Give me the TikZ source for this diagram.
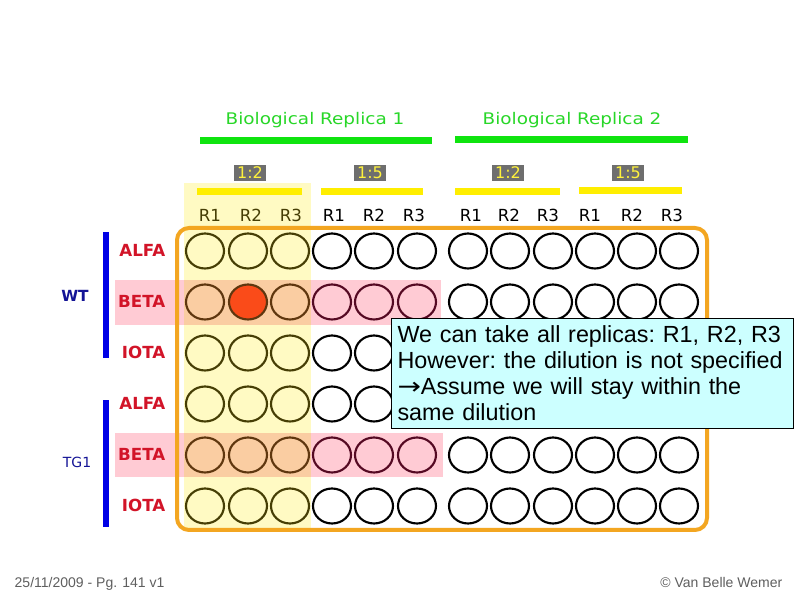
\documentclass[tikz,border=0pt]{standalone}
\usepackage{fontspec}
\usepackage{graphicx}
\setmainfont{DejaVu Sans}
\newfontfamily\notefont{Liberation Sans}
\newfontfamily\arrowfont{DejaVu Sans}
\newfontfamily\widefont[FakeStretch=1.15]{DejaVu Sans}
\usepackage{tikz}

\definecolor{platecol}{RGB}{243,166,33}
\definecolor{colyel}{RGB}{255,250,195}
\definecolor{rowpink}{RGB}{255,203,212}
\definecolor{rowpeach}{RGB}{250,205,162}
\definecolor{edgeyel}{RGB}{70,62,5}
\definecolor{edgepink}{RGB}{85,10,35}
\definecolor{edgepeach}{RGB}{95,55,15}
\definecolor{wellred}{RGB}{250,75,25}
\definecolor{barblue}{RGB}{0,0,230}
\definecolor{navy}{RGB}{20,20,150}
\definecolor{labred}{RGB}{210,20,40}
\definecolor{bargreen}{RGB}{15,228,15}
\definecolor{titlegreen}{RGB}{40,215,40}
\definecolor{baryel}{RGB}{255,238,0}
\definecolor{ratiogray}{RGB}{110,110,110}
\definecolor{ratioyel}{RGB}{255,242,60}
\definecolor{notecyan}{RGB}{204,255,255}
\definecolor{footgray}{RGB}{95,95,95}

\begin{document}
\begin{tikzpicture}[x=0.75pt, y=-0.75pt,
  well/.style={line width=1.6pt},
  rowlab/.style={anchor=base east, text=labred, font=\bfseries\fontsize{12.5}{14}\selectfont},
  replab/.style={anchor=base, font=\fontsize{12.5}{14}\selectfont},
  ratio/.style={fill=ratiogray, text=ratioyel, font=\fontsize{12}{14}\selectfont,
    inner xsep=2pt, inner ysep=1.5pt, text height=9pt, text depth=0pt},
  title/.style={anchor=base, text=titlegreen, font=\widefont\fontsize{12}{14}\selectfont}]

\useasboundingbox[fill=white] (0,0) rectangle (794,595);

% draw yellow column and pink rows
\fill[colyel] (184,183) rectangle (311,530);
\fill[rowpink] (115,280) rectangle (441,325);
\fill[rowpink] (115,433) rectangle (443,477);
\fill[rowpeach] (184,280) rectangle (311,325);
\fill[rowpeach] (184,433) rectangle (311,477);

% draw plate
\draw[platecol, line width=3pt, rounded corners=9pt] (177,228) rectangle (707,530);

% draw wells
\foreach \x in {205,248,290}
  \foreach \y in {251,353,404,506}
    \draw[well, edgeyel] (\x,\y) ellipse [x radius=19, y radius=17.5];
\foreach \x in {205,290}
  \foreach \y in {302,455}
    \draw[well, edgepeach] (\x,\y) ellipse [x radius=19, y radius=17.5];
\draw[well, edgepeach] (248,455) ellipse [x radius=19, y radius=17.5];
\filldraw[well, draw=edgepeach, fill=wellred] (248,302) ellipse [x radius=19, y radius=17.5];
\foreach \x in {332,374,417}
  \foreach \y in {302,455}
    \draw[well, edgepink] (\x,\y) ellipse [x radius=19, y radius=17.5];
\foreach \x in {332,374,417}
  \foreach \y in {251,353,404,506}
    \draw[well, black] (\x,\y) ellipse [x radius=19, y radius=17.5];
\foreach \x in {468,510,553,595,637,679}
  \foreach \y in {251,302,353,404,455,506}
    \draw[well, black] (\x,\y) ellipse [x radius=19, y radius=17.5];

% draw bars
\fill[barblue] (103,232) rectangle (109,358);
\fill[barblue] (103,400) rectangle (109,527);
\fill[bargreen] (200,137) rectangle (432,144);
\fill[bargreen] (455,136) rectangle (688,143);
\fill[baryel] (197,188) rectangle (302,195);
\fill[baryel] (321,188) rectangle (423,195);
\fill[baryel] (455,188) rectangle (560,195);
\fill[baryel] (579,187) rectangle (682,194);

% draw labels
\node (bio1) [title] at (315,125) {Biological Replica 1};
\node (bio2) [title] at (572,125) {Biological Replica 2};

\node (dil1) [ratio] at (250,173) {1:2};
\node (dil2) [ratio] at (370,173) {1:5};
\node (dil3) [ratio] at (508,173) {1:2};
\node (dil4) [ratio] at (628,173) {1:5};

\foreach \x/\t [count=\i] in {210/R1,251/R2,291/R3}
  \node (rep\i) [replab, text=edgeyel] at (\x,222) {\t};
\foreach \x/\t [count=\i from 4] in {334/R1,374/R2,414/R3,471/R1,509/R2,548/R3,590/R1,632/R2,672/R3}
  \node (rep\i) [replab] at (\x,222) {\t};

\foreach \y/\t [count=\i] in {251/ALFA,302/BETA,353/IOTA,404/ALFA,455/BETA,506/IOTA}
  \node (row\i) [rowlab] at (170,\y+6) {\t};

\node (wt) [anchor=base, text=navy, font=\bfseries\fontsize{11.5}{13}\selectfont] at (75,302) {WT};
\node (tg1) [anchor=base, text=navy, font=\fontsize{10.5}{12}\selectfont] at (77,468) {TG1};

% draw note
\node (note) [anchor=north west, draw=black, line width=0.75pt, fill=notecyan,
  text width=292.5pt, inner xsep=4.5pt, minimum height=82.5pt, align=left,
  font=\notefont\fontsize{17.5}{19.5}\selectfont\frenchspacing] at (391,318)
  {\mbox{We can take all replicas: R1, R2, R3}\\
   \mbox{However: the dilution is not specified}\\
   \mbox{\scalebox{1.2}[1]{\arrowfont →}Assume we will stay within the}\\
   \mbox{same dilution}};

% draw footer
\node (date) [anchor=base west, text=footgray, font=\notefont\fontsize{10.5}{12}\selectfont] at (10,588) {25/11/2009 - Pg. 141 v1};
\node (copy) [anchor=base east, text=footgray, font=\notefont\fontsize{10.5}{12}\selectfont] at (787,588) {© Van Belle Wemer};

\end{tikzpicture}
\end{document}
